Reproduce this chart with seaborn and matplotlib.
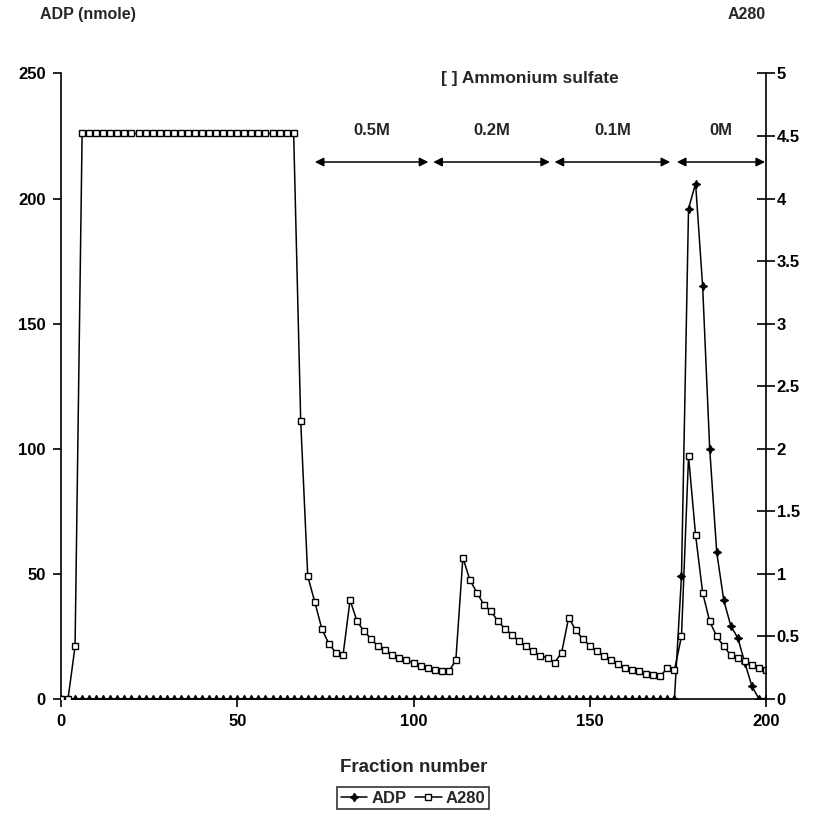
import numpy as np
import pandas as pd
import matplotlib
matplotlib.use("Agg")
import matplotlib.pyplot as plt
import seaborn as sns
from matplotlib.lines import Line2D

# ---------------- data ----------------
fractions = list(range(0, 201, 2))

a280 = ([0.0, 0.0, 0.42] + [4.52] * 31 +
        [2.22, 0.98, 0.775, 0.56, 0.44, 0.37, 0.35,
         0.79, 0.62, 0.54, 0.48, 0.42, 0.39, 0.35, 0.33, 0.31, 0.29, 0.26, 0.245, 0.23, 0.22, 0.22,
         0.31, 1.13, 0.95, 0.85, 0.75, 0.70, 0.62, 0.56, 0.51, 0.46, 0.42, 0.38, 0.345, 0.33, 0.29,
         0.37, 0.65, 0.55, 0.48, 0.425, 0.38, 0.34, 0.31, 0.28, 0.25, 0.23, 0.22, 0.20, 0.19, 0.185,
         0.245, 0.23, 0.50, 1.94, 1.31, 0.85, 0.62, 0.50, 0.42, 0.35, 0.33, 0.30, 0.27, 0.245, 0.23])

adp = ([0.0] * 88 +
       [49, 196, 206, 165, 100, 58.6, 39.4, 29.2, 24.3, 14.3, 5, 0, 0])

salt_labels = ["0.5M", "0.2M", "0.1M", "0M"]
salt_start = [72, 105.6, 140, 174.7]
salt_end = [104.2, 138.7, 172.8, 199.7]

left_ticks = [0, 50, 100, 150, 200, 250]
right_ticks = [0, 0.5, 1, 1.5, 2, 2.5, 3, 3.5, 4, 4.5, 5]
right_ticklabels = ["0", "0.5", "1", "1.5", "2", "2.5", "3", "3.5", "4", "4.5", "5"]
x_ticks = [0, 50, 100, 150, 200]

df = pd.DataFrame({"fraction": fractions, "ADP": adp, "A280": a280})

# ---------------- style ----------------
sns.set_style("ticks")
plt.rcParams["font.family"] = ["Liberation Sans", "DejaVu Sans"]
plt.rcParams["font.weight"] = "bold"
FS = 12

fig = plt.figure(figsize=(8.15, 8.16), dpi=100)
ax = fig.add_axes([0.0748, 0.1434, 0.8652, 0.7666])
ax2 = ax.twinx()

star = (4, 1, 0)
sns.lineplot(data=df, x="fraction", y="ADP", ax=ax, color="black", lw=1.1,
             marker=star, markersize=6, markeredgecolor="black",
             markerfacecolor="black", markeredgewidth=0.8, legend=False)
sns.lineplot(data=df, x="fraction", y="A280", ax=ax2, color="black", lw=1.1,
             marker="s", markersize=4.5, markerfacecolor="white",
             markeredgecolor="black", markeredgewidth=1.0, legend=False)

ax.set_xlim(0, 200)
ax.set_ylim(0, 250)
ax2.set_ylim(0, 5)
ax.set_xticks(x_ticks)
ax.set_yticks(left_ticks)
ax2.set_yticks(right_ticks)
ax2.set_yticklabels(right_ticklabels)
ax.set_xlabel("")
ax.set_ylabel("")
ax2.set_ylabel("")

for a in (ax, ax2):
    a.spines["top"].set_visible(False)
    for s in ("left", "right", "bottom"):
        a.spines[s].set_linewidth(1.2)
        a.spines[s].set_color("black")
ax.spines["right"].set_visible(False)
ax2.spines["left"].set_visible(False)
ax2.spines["bottom"].set_visible(False)

ax.tick_params(axis="both", direction="out", length=6, width=1.2, labelsize=FS, colors="black", pad=5)
ax2.tick_params(axis="y", direction="inout", length=13, width=1.2, labelsize=FS, colors="black", pad=1)
for lab in ax.get_xticklabels() + ax.get_yticklabels() + ax2.get_yticklabels():
    lab.set_fontweight("bold")

# salt gradient arrows
arrow_y = 214.6
for lbl, s, e in zip(salt_labels, salt_start, salt_end):
    ax.annotate("", xy=(e, arrow_y), xytext=(s, arrow_y),
                arrowprops=dict(arrowstyle="<|-|>", color="black", lw=1.1,
                                mutation_scale=13, shrinkA=0, shrinkB=0))
    ax.text((s + e) / 2, 227, lbl, ha="center", va="center", fontsize=FS, fontweight="bold")
ax.text(133, 248, "[ ] Ammonium sulfate", ha="center", va="center", fontsize=FS + 0.5, fontweight="bold")

fig.text(0.049, 0.982, "ADP (nmole)", ha="left", va="center", fontsize=FS - 0.5, fontweight="bold")
fig.text(0.94, 0.982, "A280", ha="right", va="center", fontsize=FS - 0.5, fontweight="bold")
fig.text(0.507, 0.06, "Fraction number", ha="center", va="center", fontsize=FS + 1.5, fontweight="bold")

handles = [
    Line2D([], [], color="black", lw=1.1, marker=star, markersize=6,
           markerfacecolor="black", markeredgecolor="black"),
    Line2D([], [], color="black", lw=1.1, marker="s", markersize=4.5,
           markerfacecolor="white", markeredgecolor="black"),
]
leg = fig.legend(handles, ["ADP", "A280"], loc="center", bbox_to_anchor=(0.507, 0.022),
                 ncol=2, frameon=True, fancybox=False, edgecolor="black",
                 prop={"weight": "bold", "size": FS}, handlelength=1.6,
                 handletextpad=0.25, columnspacing=0.5, borderpad=0.2, borderaxespad=0)
leg.get_frame().set_linewidth(1.2)

fig.savefig("out.png", dpi=100, facecolor="white")
